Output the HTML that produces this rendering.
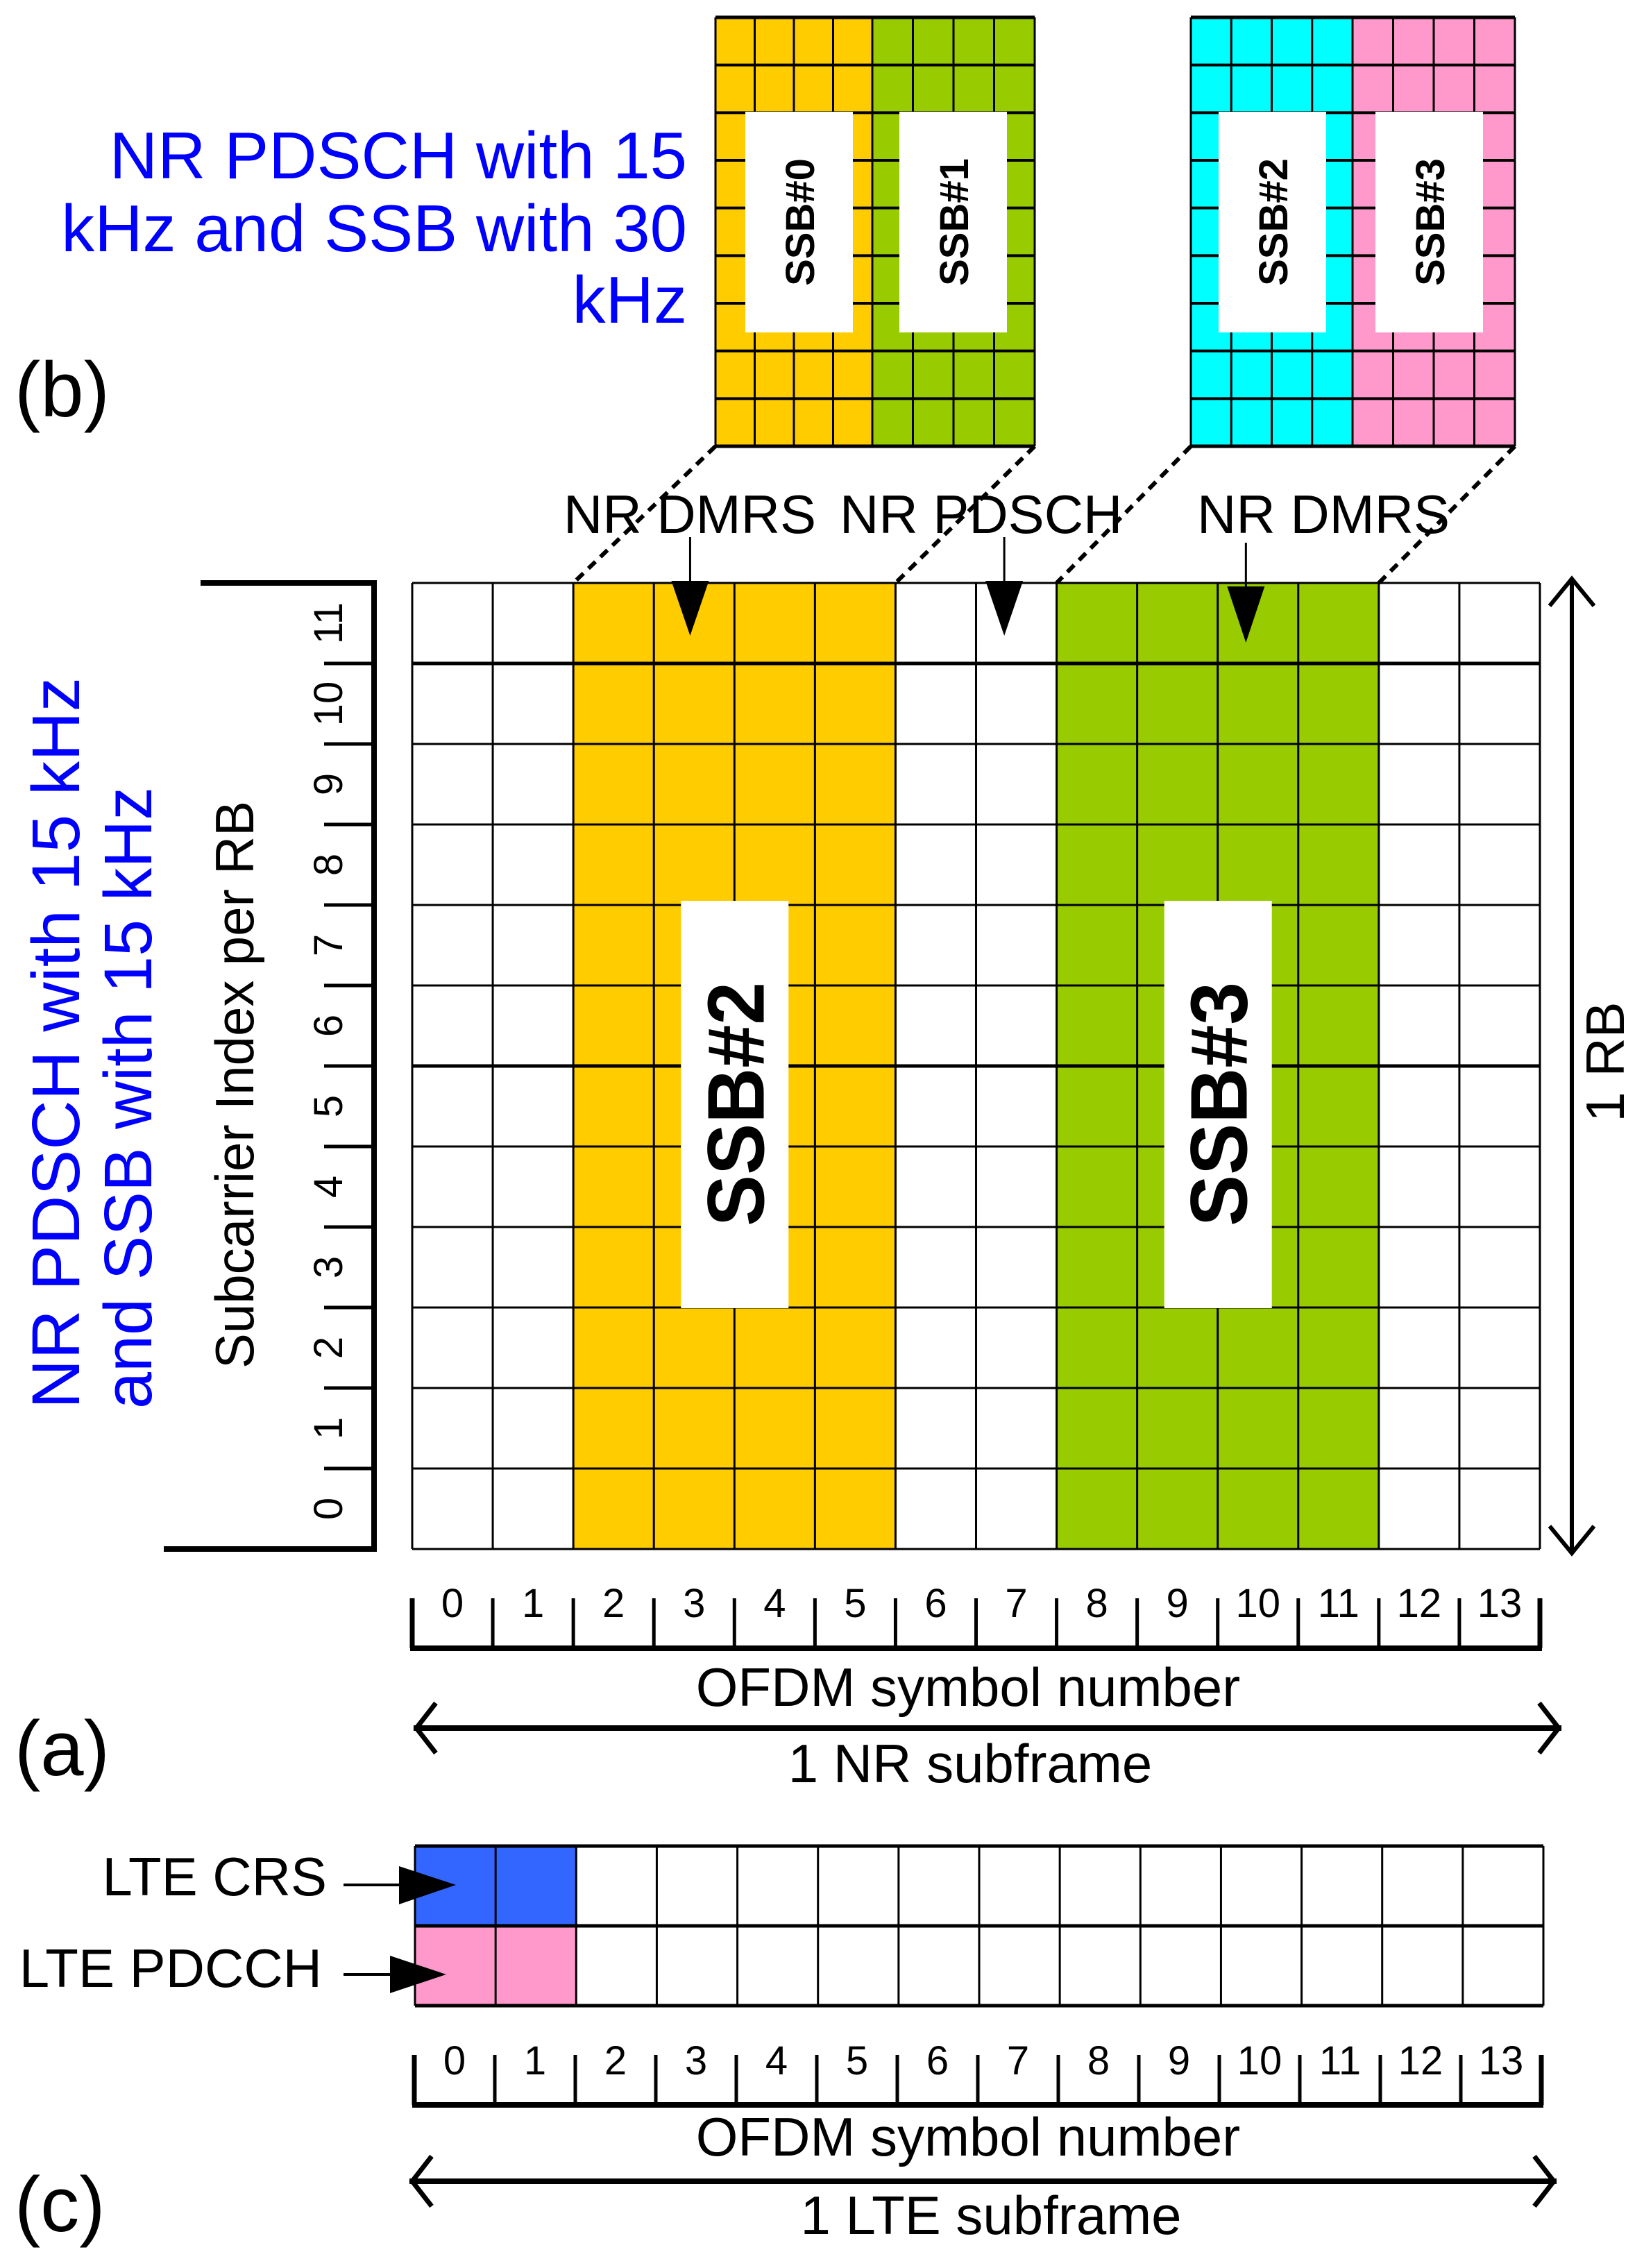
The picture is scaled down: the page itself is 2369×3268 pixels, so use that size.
<!DOCTYPE html>
<html><head><meta charset="utf-8"><style>
html,body{margin:0;padding:0;background:#fff}
svg{display:block}
text{font-family:"Liberation Sans",Arial,sans-serif}
</style></head><body>
<svg id="fig" width="2369" height="3268" viewBox="0 0 2369 3268" xmlns="http://www.w3.org/2000/svg">
<rect width="2369" height="3268" fill="#fff"/>
<g id="g"></g>
</svg>
<script>
const symbolLabels=["0","1","2","3","4","5","6","7","8","9","10","11","12","13"];
const subcarrierLabels=["0","1","2","3","4","5","6","7","8","9","10","11"];
const ssbAColumns=[2,3,4,5];
const ssbBColumns=[8,9,10,11];
const dmrsArrowCols=[3,7,10];
const lteCrsCols=[0,1];
const ltePdcchCols=[0,1];

const NS="http://www.w3.org/2000/svg";
const G=document.getElementById('g');
function el(tag,attrs,parent){const e=document.createElementNS(NS,tag);for(const k in attrs)e.setAttribute(k,attrs[k]);(parent||G).appendChild(e);return e;}
function txt(s,attrs,parent){const e=el('text',attrs,parent);e.textContent=s;return e;}

const MX0=594,MX1=2219,MY0=840,MY1=2232;
const cw=(MX1-MX0)/symbolLabels.length, rh=(MY1-MY0)/subcarrierLabels.length;
const xs=i=>MX0+i*cw;
const ys=r=>MY1-r*rh;

function topGrid(x0,x1,x2,c1,c2,name){
  const g=el('g',{});
  
  
  const y0=25,y1=643,rows=9,sub=4;
  el('rect',{x:x0,y:y0,width:x1-x0,height:y1-y0,fill:c1},g);
  el('rect',{x:x1,y:y0,width:x2-x1,height:y1-y0,fill:c2},g);
  for(let i=0;i<=sub*2;i++){const x=i<=sub?x0+(x1-x0)*i/sub:x1+(x2-x1)*(i-sub)/sub;el('line',{x1:x,y1:y0,x2:x,y2:y1,stroke:'#000','stroke-width':3},g);}
  for(let r=0;r<=rows;r++){const y=y0+(y1-y0)*r/rows;el('line',{x1:x0,y1:y,x2:x2,y2:y,stroke:'#000','stroke-width':(r==0||r==rows)?5:4},g);}
  return g;
}
topGrid(1031,1257,1491,'#ffcc00','#99cc00','ssb-30khz-grid-a');
topGrid(1716,1949,2183,'#00ffff','#ff99cc','ssb-30khz-grid-b');
const boxes=[[1074,'SSB#0'],[1296,'SSB#1'],[1756,'SSB#2'],[1982,'SSB#3']];
boxes.forEach(([x,l],i)=>{
  const r=el('rect',{x:x,y:161,width:155,height:318,fill:'#fff'});
  
  
  const t=txt(l,{x:0,y:0,'font-size':58,'font-weight':'bold','text-anchor':'middle',transform:`translate(${x+99},320) rotate(-90)`});
  
  
});
[['NR PDSCH with 15',257],['kHz and SSB with 30',362],['kHz',465]].forEach(([s,y],i)=>{
  const t=txt(s,{x:990,y:y,'font-size':96,fill:'#0000ff','text-anchor':'end'});
  
  
});
let t=txt('(b)',{x:21,y:600,'font-size':112});


[[1031,643,xs(2)],[1491,643,xs(6)],[1716,643,xs(8)],[2183,643,xs(12)]].forEach(([x,y,x2],i)=>{
  const l=el('line',{x1:x,y1:y,x2:x2,y2:MY0,stroke:'#000','stroke-width':6,'stroke-dasharray':'14 10'});
  
  
});

ssbAColumns.forEach(c=>{const r=el('rect',{x:xs(c),y:MY0,width:cw,height:MY1-MY0,fill:'#ffcc00'});});
ssbBColumns.forEach(c=>{const r=el('rect',{x:xs(c),y:MY0,width:cw,height:MY1-MY0,fill:'#99cc00'});});
for(let i=0;i<=symbolLabels.length;i++){el('line',{x1:xs(i),y1:MY0,x2:xs(i),y2:MY1,stroke:'#000','stroke-width':3});}
for(let r=0;r<=subcarrierLabels.length;r++){el('line',{x1:MX0,y1:ys(r),x2:MX1,y2:ys(r),stroke:'#000','stroke-width':(r==11||r==6)?5:3});}
function bigBox(cols,name,label){
  const cx=xs(cols[0])+cw*(cols.length/2);
  const r=el('rect',{x:cx-77,y:MY0+458,width:155,height:587,fill:'#fff'});
  
  const t=txt(label,{x:0,y:0,'font-size':116,'font-weight':'bold','text-anchor':'middle',textLength:352,lengthAdjust:'spacingAndGlyphs',transform:`translate(${cx+42},${MY0+751}) rotate(-90)`});
  
}
bigBox(ssbAColumns,'ssb2-box','SSB#2');
bigBox(ssbBColumns,'ssb3-box','SSB#3');

const arrowLabels=[['NR DMRS',812],['NR PDSCH',1210],['NR DMRS',1725]];
arrowLabels.forEach(([s,x],i)=>{const t=txt(s,{x:x,y:768,'font-size':78});});
const arrowOffsets=[0,-0.1,-0.1];
dmrsArrowCols.forEach((c,i)=>{
  const cx=xs(c)+cw*(0.45+arrowOffsets[i]);
  const top=i==2?845:837, tip=i==2?926:916;
  el('line',{x1:cx,y1:i==2?782:774,x2:cx,y2:top,stroke:'#000','stroke-width':3});
  const p=el('polygon',{points:`${cx-27},${top} ${cx+27},${top} ${cx},${tip}`,fill:'#000'});
  
});

el('line',{x1:539,y1:MY0,x2:539,y2:MY1,stroke:'#000','stroke-width':8});
el('line',{x1:289,y1:MY0,x2:543,y2:MY0,stroke:'#000','stroke-width':8});
el('line',{x1:236,y1:MY1,x2:543,y2:MY1,stroke:'#000','stroke-width':8});
subcarrierLabels.forEach((s,r)=>{
  if(r>0) el('line',{x1:467,y1:ys(r),x2:539,y2:ys(r),stroke:'#000','stroke-width':5});
  const t=txt(s,{x:0,y:0,'font-size':58,'text-anchor':'middle',transform:`translate(493,${ys(r)-rh/2}) rotate(-90)`});
  
});
t=txt('Subcarrier Index per RB',{x:0,y:0,'font-size':78,'text-anchor':'middle',textLength:818,lengthAdjust:'spacingAndGlyphs',transform:'translate(365,1563) rotate(-90)'});

t=txt('NR PDSCH with 15 kHz',{x:0,y:0,'font-size':97,fill:'#0000ff','text-anchor':'start',textLength:1054,lengthAdjust:'spacingAndGlyphs',transform:'translate(114,2030) rotate(-90)'});

t=txt('and SSB with 15 kHz',{x:0,y:0,'font-size':97,fill:'#0000ff','text-anchor':'start',textLength:896,lengthAdjust:'spacingAndGlyphs',transform:'translate(218,2030) rotate(-90)'});


el('line',{x1:2265,y1:836,x2:2265,y2:2236,stroke:'#000','stroke-width':6});
el('polyline',{points:'2233,873 2265,834 2297,873',fill:'none',stroke:'#000','stroke-width':6});
el('polyline',{points:'2233,2199 2265,2238 2297,2199',fill:'none',stroke:'#000','stroke-width':6});
t=txt('1 RB',{x:0,y:0,'font-size':78,'text-anchor':'middle',transform:'translate(2340,1530) rotate(-90)'});


function xAxis(x0,x1,base,labelY,name){
  const w=(x1-x0)/symbolLabels.length;
  el('line',{x1:x0-3,y1:base,x2:x1+3,y2:base,stroke:'#000','stroke-width':8});
  for(let i=0;i<=symbolLabels.length;i++) el('line',{x1:x0+i*w,y1:base,x2:x0+i*w,y2:base-72,stroke:'#000','stroke-width':(i==0||i==symbolLabels.length)?7:5});
  symbolLabels.forEach((s,i)=>{const t=txt(s,{x:x0+(i+0.5)*w,y:labelY,'font-size':58,'text-anchor':'middle'});});
}
function dblArrow(x0,x1,y,name){
  const g=el('g',{});
  el('line',{x1:x0,y1:y,x2:x1,y2:y,stroke:'#000','stroke-width':8},g);
  el('polyline',{points:`${x0+32},${y-36} ${x0+4},${y} ${x0+32},${y+36}`,fill:'none',stroke:'#000','stroke-width':7},g);
  el('polyline',{points:`${x1-32},${y-36} ${x1-4},${y} ${x1-32},${y+36}`,fill:'none',stroke:'#000','stroke-width':7},g);
}
xAxis(MX0,MX1,2375,2330,'nr-symbol');
t=txt('OFDM symbol number',{x:1395,y:2458,'font-size':78,'text-anchor':'middle'});
dblArrow(596,2250,2490,'nr-subframe-arrow');
t=txt('1 NR subframe',{x:1398,y:2568,'font-size':78,'text-anchor':'middle'});
t=txt('(a)',{x:21,y:2558,'font-size':112});

const LX0=598,LX1=2224,LY0=2660,LY1=2775,LY2=2890;
const lw=(LX1-LX0)/symbolLabels.length;
lteCrsCols.forEach(c=>{const r=el('rect',{x:LX0+c*lw,y:LY0,width:lw,height:LY1-LY0,fill:'#3366ff'});});
ltePdcchCols.forEach(c=>{const r=el('rect',{x:LX0+c*lw,y:LY1,width:lw,height:LY2-LY1,fill:'#ff99cc'});});
for(let i=0;i<=symbolLabels.length;i++) el('line',{x1:LX0+i*lw,y1:LY0,x2:LX0+i*lw,y2:LY2,stroke:'#000','stroke-width':3});
[LY0,LY1,LY2].forEach(y=>el('line',{x1:LX0,y1:y,x2:LX1,y2:y,stroke:'#000','stroke-width':5}));
t=txt('LTE CRS',{x:471,y:2731,'font-size':78,'text-anchor':'end'});
t=txt('LTE PDCCH',{x:464,y:2863,'font-size':78,'text-anchor':'end'});
el('line',{x1:495,y1:2716,x2:600,y2:2716,stroke:'#000','stroke-width':4});
el('polygon',{points:'575,2689 657,2716 575,2744',fill:'#000'});
el('line',{x1:495,y1:2845,x2:590,y2:2845,stroke:'#000','stroke-width':4});
el('polygon',{points:'562,2818 643,2845 562,2872',fill:'#000'});

xAxis(597,2221,3033,2989,'lte-symbol');
t=txt('OFDM symbol number',{x:1395,y:3106,'font-size':78,'text-anchor':'middle'});
dblArrow(590,2243,3143,'lte-subframe-arrow');
t=txt('1 LTE subframe',{x:1428,y:3219,'font-size':78,'text-anchor':'middle'});
t=txt('(c)',{x:21,y:3215,'font-size':112});
</script>
</body></html>
